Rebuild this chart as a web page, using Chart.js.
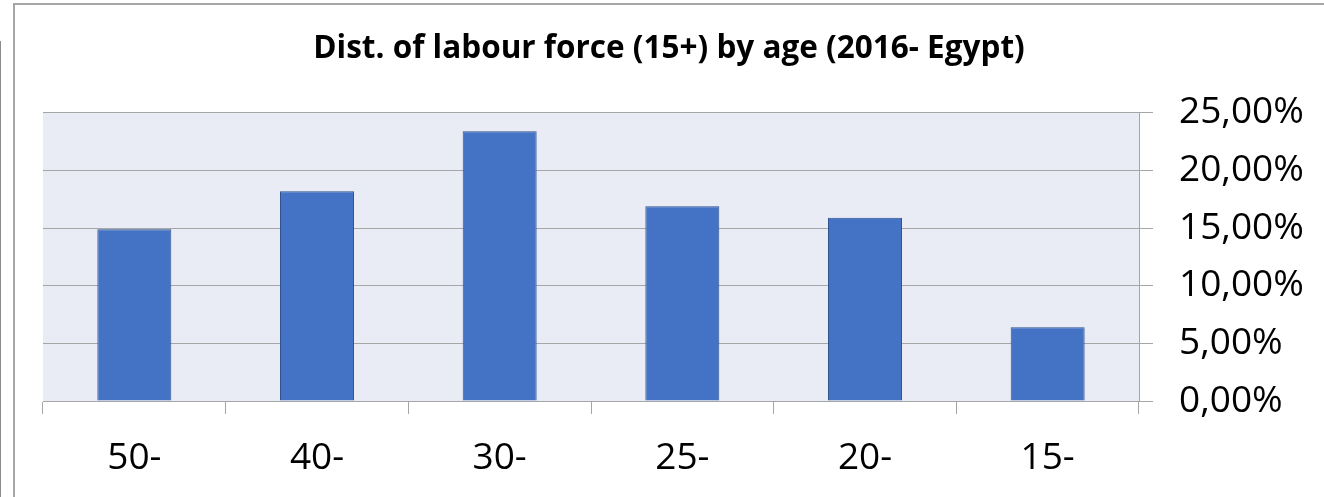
<!DOCTYPE html>
<html>
<head>
<meta charset="utf-8">
<script src="https://cdn.jsdelivr.net/npm/chart.js@4"></script>
<style>
  html, body { margin: 0; padding: 0; background: #fff; width: 1324px; height: 497px; overflow: hidden; }
  #frame { position: absolute; left: 13px; top: 3px; width: 1311px; height: 494px; border-left: 2px solid #a6a6a6; border-top: 2px solid #a6a6a6; box-sizing: border-box; }
  #edge { position: absolute; left: 0; top: 41px; width: 1px; height: 456px; background: #8c8c8c; }
  #wrap { position: absolute; left: 14px; top: 4px; width: 1310px; height: 493px; }
</style>
</head>
<body>
<div id="edge"></div>
<div id="frame"></div>
<div id="wrap"><canvas id="c"></canvas></div>
<script>
const categories = ['50-', '40-', '30-', '25-', '20-', '15-'];
const shareValues = [14.9, 18.2, 23.4, 16.9, 15.9, 6.4];
const yTicks = [0, 5, 10, 15, 20, 25];
const titleText = 'Dist. of labour force (15+) by age (2016- Egypt)';

const plotBg = {
  id: 'plotBg',
  beforeDraw(chart) {
    const a = chart.chartArea, ctx = chart.ctx;
    ctx.save();
    ctx.fillStyle = '#E9EBF5';
    ctx.fillRect(a.left, a.top, a.right - a.left, a.bottom - a.top);
    ctx.restore();
  }
};

new Chart(document.getElementById('c'), {
  type: 'bar',
  data: {
    labels: categories,
    datasets: [{
      data: shareValues,
      xAxisID: 'x',
      yAxisID: 'y',
      backgroundColor: '#4472C4',
      borderColor: '#2F528F',
      borderWidth: 1,
      categoryPercentage: 1,
      barPercentage: 0.405
    }]
  },
  options: {
    responsive: true,
    maintainAspectRatio: false,
    animation: false,
    layout: { padding: 0 },
    plugins: {
      legend: { display: false },
      tooltip: { enabled: false },
      title: {
        display: true,
        text: titleText,
        color: '#000',
        font: { family: 'Open Sans', size: 31.5, weight: 'bold' },
        padding: { top: 26, bottom: 45 }
      }
    },
    scales: {
      x: {
        afterFit(s) { s.height = 96; },
        grid: { offset: true, drawOnChartArea: false, drawTicks: true, tickLength: 13, color: '#A6A6A6', lineWidth: 1 },
        border: { display: true, color: '#A6A6A6', width: 1 },
        ticks: { color: '#000', font: { family: 'Open Sans', size: 37 }, padding: 22, maxRotation: 0 }
      },
      yLeft: {
        type: 'linear',
        position: 'left',
        min: 0, max: 1,
        afterFit(s) { s.width = 29; },
        grid: { display: false },
        border: { display: false },
        ticks: { display: false }
      },
      y: {
        type: 'linear',
        position: 'right',
        min: 0, max: 25,
        afterFit(s) { s.width = 185; },
        afterBuildTicks(s) { s.ticks = yTicks.map(v => ({ value: v })); },
        grid: { drawOnChartArea: true, drawTicks: true, tickLength: 14, color: '#A6A6A6', lineWidth: 1 },
        border: { display: true, color: '#A6A6A6', width: 1 },
        ticks: {
          color: '#000',
          font: { family: 'Open Sans', size: 37 },
          padding: 26,
          callback: v => v.toFixed(2).replace('.', ',') + '%'
        }
      }
    }
  },
  plugins: [plotBg]
});
</script>
</body>
</html>
